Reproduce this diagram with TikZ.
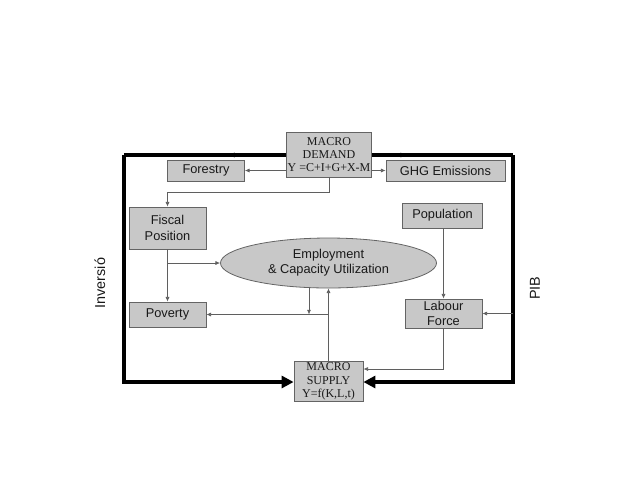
\documentclass[tikz,border=0pt]{standalone}
\usepackage{fontspec}
\setmainfont{Liberation Serif}
\setsansfont{Liberation Sans}
\usetikzlibrary{arrows.meta,shapes.geometric,decorations.markings}
\definecolor{boxfill}{RGB}{200,200,200}
\definecolor{boxline}{RGB}{100,100,100}
\definecolor{connline}{RGB}{95,95,95}
\tikzset{
  sbox/.style={draw=boxline,fill=boxfill,line width=0.6pt,inner sep=1pt,align=center,
    font=\sffamily\fontsize{9.6}{11.5}\selectfont,text=black!90},
  mbox/.style={draw=boxline,fill=boxfill,line width=0.6pt,inner sep=1pt,align=center,
    font=\rmfamily\fontsize{9}{10}\selectfont,text=black!90},
  conn/.style={draw=connline,line width=0.5pt,-{Latex[length=3.5pt,width=3pt]}},
  frameline/.style={draw=black,line width=2.3pt},
  bigtip/.style={-{Triangle[length=9pt,width=9pt]}},
  sidelabel/.style={font=\sffamily\fontsize{10.8}{12}\selectfont,text=black!90,rotate=90}
}
\begin{document}
\begin{tikzpicture}[x=0.75pt,y=-0.75pt]
\useasboundingbox (0,0) rectangle (640,480);
% nodes
\node[mbox,minimum width=84*0.75pt,minimum height=45*0.75pt] (demand) at (329,154.5) {MACRO\\DEMAND\\Y =C+I+G+X-M};
\node[sbox,minimum width=77*0.75pt,minimum height=21*0.75pt] (forestry) at (206,170.5) {Forestry};
\node[sbox,minimum width=119*0.75pt,minimum height=21*0.75pt] (ghg) at (445.5,170.5) {GHG Emissions};
\node[sbox,minimum width=77*0.75pt,minimum height=42*0.75pt] (fiscal) at (167.5,228) {Fiscal\\Position};
\node[sbox,minimum width=77*0.75pt,minimum height=25*0.75pt] (poverty) at (167.5,314.5) {Poverty};
\node[sbox,ellipse,inner sep=0pt,minimum width=216*0.75pt,minimum height=50*0.75pt] (emp) at (328.5,263) {Employment\\\& Capacity Utilization};
\node[sbox,minimum width=80*0.75pt,minimum height=25*0.75pt] (population) at (442.5,215.5) {Population};
\node[sbox,minimum width=77*0.75pt,minimum height=29*0.75pt] (labour) at (443.5,313.5) {Labour\\Force};
\node[mbox,minimum width=69*0.75pt,minimum height=39*0.75pt] (supply) at (328.5,381.5) {MACRO\\SUPPLY\\Y=f(K,L,t)};
% coordinates
\coordinate (tl) at (124,155);
\coordinate (tr) at (513,155);
\coordinate (bl) at (124,382);
\coordinate (br) at (513,382);
\coordinate (dbend) at (329,192);
\coordinate (edown) at (309,314.5);
\coordinate (lbend) at (443.5,369);
% side labels
\node[sidelabel] (inv) at (100,283) {Inversió};
\node[sidelabel] (pib) at (535,288) {PIB};
% thick frame
\draw[frameline,postaction={decorate},decoration={markings,mark=at position 0.35 with {\arrow{Latex[length=4pt,width=4pt]}}}] (demand.west |- tl) -- (tl);
\draw[frameline,postaction={decorate},decoration={markings,mark=at position 0.24 with {\arrow{Latex[length=4pt,width=4pt]}}}] (demand.east |- tr) -- (tr);
\draw[frameline,bigtip,line join=miter] (tl) -- (bl) -- (bl -| supply.west);
\draw[frameline,bigtip,line join=miter] (tr) -- (br) -- (br -| supply.east);
% connectors
\draw[conn] (forestry.east -| demand.west) -- (forestry.east);
\draw[conn] (ghg.west -| demand.east) -- (ghg.west);
\draw[conn] (demand.south) -- (dbend) -| (fiscal.north);
\draw[conn] (fiscal.south) -- (poverty.north);
\draw[conn] (fiscal.south |- emp.west) -- (emp.west);
\draw[conn] (supply.north) -- (emp.south);
\draw[conn] (supply.north |- poverty.east) -- (poverty.east);
\draw[conn] (edown |- emp.south) -- (edown);
\draw[conn] (population.south -| labour.north) -- (labour.north);
\draw[conn] (labour.east -| tr) -- (labour.east);
\draw[conn] (labour.south) -- (lbend) -- (lbend -| supply.east);
\end{tikzpicture}
\end{document}
